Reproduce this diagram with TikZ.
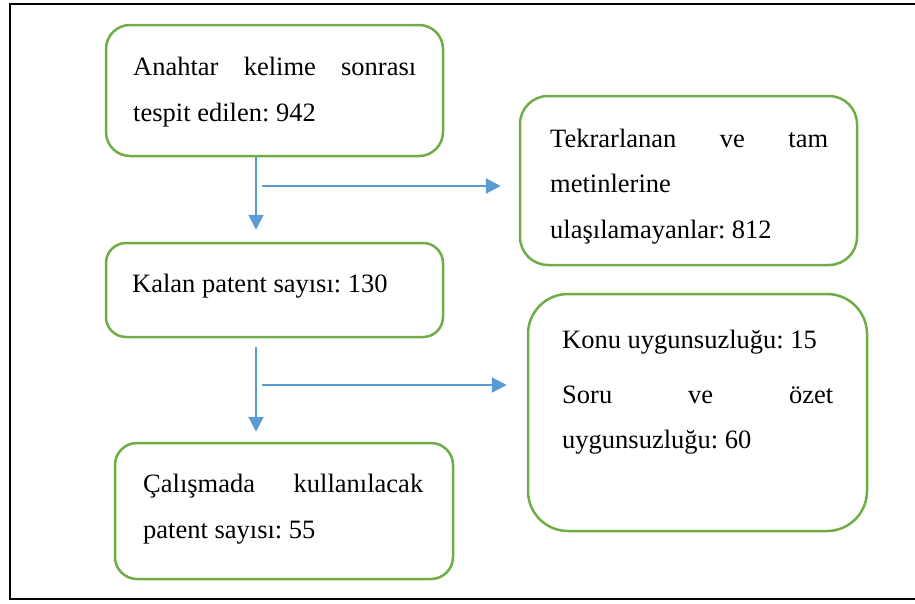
\documentclass[tikz,border=0pt]{standalone}
\usepackage{fontspec}
\setmainfont{Liberation Serif}
\usetikzlibrary{arrows.meta}
\definecolor{boxgreen}{HTML}{70AD47}
\definecolor{arrblue}{HTML}{5B9BD5}
\frenchspacing
\begin{document}
\begin{tikzpicture}[x=1pt,y=-1pt,
  box/.style={draw=boxgreen, line width=2.5pt, inner sep=0pt},
  txt/.style={anchor=base west, inner sep=0pt, font=\fontsize{26.5}{45}\selectfont\frenchspacing},
  conn/.style={draw=arrblue, line width=2.2pt},
  arr/.style={conn, -{Triangle[width=15pt,length=15pt]}}]
\useasboundingbox (0,0) rectangle (915,603);
% outer frame (cut off at right)
\draw[line width=2pt] (915,4) -- (10,4) -- (10,599) -- (915,599);
% boxes
\node[box, rounded corners=24pt, minimum width=337pt, minimum height=131pt] (b1) at (274.5,90.5) {};
\node[box, rounded corners=28pt, minimum width=337pt, minimum height=169pt] (b2) at (688.5,180.5) {};
\node[box, rounded corners=20pt, minimum width=337pt, minimum height=94pt] (b3) at (274.5,290) {};
\node[box, rounded corners=40pt, minimum width=339pt, minimum height=237pt] (b4) at (697.5,412.5) {};
\node[box, rounded corners=22pt, minimum width=338pt, minimum height=136pt] (b5) at (284,511) {};
% texts
\node[txt] (t1a) at (133,75) {\makebox[283pt][s]{Anahtar kelime sonrası}};
\node[txt] (t1b) at (133,121) {tespit edilen: 942};
\node[txt] (t2a) at (550,147) {\makebox[278pt][s]{Tekrarlanan ve tam}};
\node[txt] (t2b) at (550,192) {metinlerine};
\node[txt] (t2c) at (550,238) {ulaşılamayanlar: 812};
\node[txt] (t3a) at (132,292) {Kalan patent sayısı: 130};
\node[txt] (t4a) at (562,348) {Konu uygunsuzluğu: 15};
\node[txt] (t4b) at (562,403) {\makebox[271pt][s]{Soru ve özet}};
\node[txt] (t4c) at (562,448) {uygunsuzluğu: 60};
\node[txt] (t5a) at (143,492) {\makebox[280pt][s]{Çalışmada kullanılacak}};
\node[txt] (t5b) at (143,538) {patent sayısı: 55};
% connectors
\coordinate (h1) at (262,186);
\coordinate (h2) at (262,385);
\draw[arr, shorten >=12pt] ([xshift=-18.5pt]b1.south) -- ([xshift=-18.5pt]b3.north);
\draw[arr, shorten >=18pt] (h1) -- (b2.west |- h1);
\draw[arr, shorten <=9pt, shorten >=10pt] ([xshift=-18.5pt]b3.south) -- ([xshift=-28pt]b5.north);
\draw[arr, shorten >=20pt] (h2) -- (b4.west |- h2);
\end{tikzpicture}
\end{document}
